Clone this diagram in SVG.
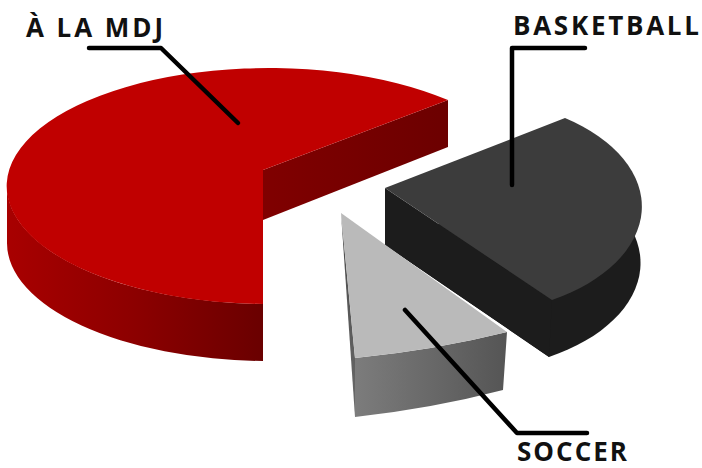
<svg xmlns="http://www.w3.org/2000/svg" width="702" height="468" viewBox="0 0 702 468">
  <defs>
    <linearGradient id="redWall" x1="0" y1="0" x2="1" y2="0">
      <stop offset="0" stop-color="#a80000"/>
      <stop offset="0.5" stop-color="#8c0000"/>
      <stop offset="1" stop-color="#6a0000"/>
    </linearGradient>
    <linearGradient id="redCut" x1="0" y1="0" x2="1" y2="0">
      <stop offset="0" stop-color="#800000"/>
      <stop offset="1" stop-color="#6c0000"/>
    </linearGradient>
    <linearGradient id="grayWall" x1="0" y1="0" x2="1" y2="0">
      <stop offset="0" stop-color="#7c7c7c"/>
      <stop offset="1" stop-color="#555555"/>
    </linearGradient>
    <linearGradient id="graySliver" x1="0" y1="0" x2="0" y2="1">
      <stop offset="0" stop-color="#484848"/>
      <stop offset="1" stop-color="#6a6a6a"/>
    </linearGradient>
  </defs>
  <style>
    .label { font-family: "Open Sans", "Noto Sans", "DejaVu Sans", sans-serif; font-weight: 700; font-size: 26px; fill: #111111; }
    .leader { fill: none; stroke: #000000; stroke-width: 4.5; stroke-linecap: round; stroke-linejoin: round; }
    .bbTop { fill: #3c3c3c; }
    .bbSide { fill: #1c1c1c; }
    .redTop { fill: #c00000; }
    .scTop { fill: #bababa; }
  </style>
  <rect width="702" height="468" fill="#ffffff"/>

  <g id="slice-mdj">
    <path d="M7,186 A262,118 0 0 0 263,304 L263,361 A262,118 0 0 1 7,243 Z" fill="url(#redWall)"/>
    <polygon points="263,170 448,100 448,147 263,220" fill="url(#redCut)"/>
    <path class="redTop" d="M263,170 L448,100 A262,118 0 1 0 263,304 Z"/>
  </g>

  <g id="slice-basketball">
    <path class="bbSide" d="M385,245 L565,175 A180,108 0 0 1 549,357 Z"/>
    <polygon class="bbSide" points="385,188 552,300 549,357 385,245"/>
    <path class="bbTop" d="M385,188 L565,118 A180,108 0 0 1 552,300 Z"/>
  </g>

  <g id="slice-soccer">
    <path d="M507,332 A600,300 0 0 1 355,358 L355,417 A600,300 0 0 0 503,390 Z" fill="url(#grayWall)"/>
    <polygon points="341,213 355,358 355,417" fill="url(#graySliver)"/>
    <path class="scTop" d="M341,213 L507,332 A600,300 0 0 1 355,358 Z"/>
  </g>

  <g id="connectors">
    <polyline class="leader" points="89,48 161,48 238,123"/>
    <polyline class="leader" points="585,48 512,48 512,185"/>
    <polyline class="leader" points="405,310 517,433 587,433"/>
  </g>

  <g id="label-mdj"><text class="label" x="26" y="37" textLength="137" lengthAdjust="spacing">À LA MDJ</text></g>
  <g id="label-basketball"><text class="label" x="513" y="35" textLength="186" lengthAdjust="spacing">BASKETBALL</text></g>
  <g id="label-soccer"><text class="label" x="517" y="461" textLength="110" lengthAdjust="spacing">SOCCER</text></g>
</svg>
